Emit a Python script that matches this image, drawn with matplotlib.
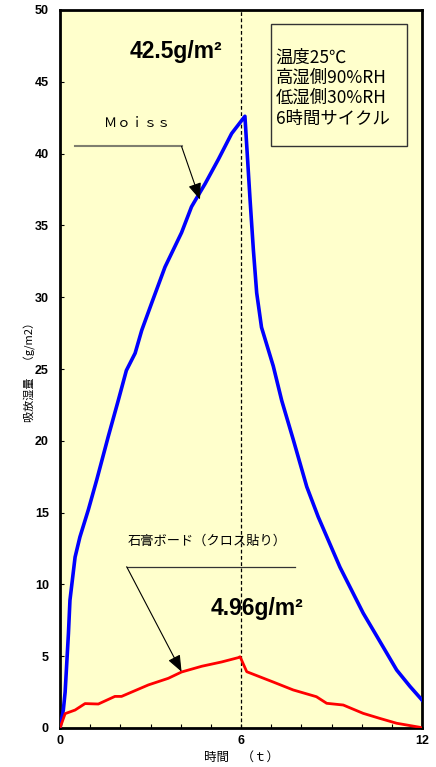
import matplotlib
matplotlib.use("Agg")
import matplotlib.pyplot as plt
from matplotlib.patches import Rectangle
from matplotlib.ticker import MultipleLocator

# ---- data ----
moiss_t = [0, 0.11, 0.17, 0.28, 0.33, 0.5, 0.66, 0.94, 1.22, 1.6, 1.93, 2.2, 2.49, 2.71,
           3.04, 3.48, 4.03, 4.36, 4.5, 4.81, 5.25, 5.69, 6.13, 6.3, 6.41, 6.52, 6.68,
           7.07, 7.35, 7.73, 8.18, 8.56, 9.28, 10.05, 10.5, 11.16, 11.6, 12.0]
moiss_v = [0, 1.25, 2.5, 6.6, 8.9, 11.9, 13.3, 15.2, 17.3, 20.3, 22.8, 24.9, 26.1, 27.7,
           29.6, 32.1, 34.5, 36.3, 36.8, 37.9, 39.6, 41.4, 42.6, 36.8, 33.3, 30.3, 27.9,
           25.2, 22.8, 20.1, 16.8, 14.7, 11.2, 8.0, 6.4, 4.04, 2.9, 1.95]
gyp_t = [0, 0.17, 0.5, 0.83, 1.27, 1.82, 2.04, 2.93, 3.59, 4.03, 4.7, 5.36, 5.91, 5.97,
         6.19, 7.07, 7.73, 8.5, 8.84, 9.39, 10.05, 10.6, 11.16, 11.93, 12.0]
gyp_v = [0, 1.0, 1.25, 1.7, 1.67, 2.2, 2.2, 3.0, 3.46, 3.9, 4.3, 4.6, 4.9, 4.96,
         3.92, 3.2, 2.65, 2.18, 1.72, 1.6, 1.02, 0.67, 0.33, 0.05, 0.0]
x_major = [0, 6, 12]
y_major = [0, 5, 10, 15, 20, 25, 30, 35, 40, 45, 50]
info_lines = ["温度25℃", "高湿側90%RH", "低湿側30%RH", "6時間サイクル"]

JP = ["Noto Sans CJK JP", "DejaVu Sans"]
NUM = ["Liberation Sans Narrow", "Liberation Sans", "DejaVu Sans"]

fig = plt.figure(figsize=(4.36, 7.67), dpi=100)
ax = fig.add_axes([60/436, 1 - 728/767, (422-60)/436, (728-10)/767])
ax.set_facecolor("#FFFFCC")

ax.plot(moiss_t, moiss_v, color="#0000FF", lw=2.6, solid_joinstyle="round", zorder=3)
ax.plot(gyp_t, gyp_v, color="#FF0000", lw=2.0, solid_joinstyle="round", zorder=3)
ax.axvline(6, color="black", lw=0.9, ls=(0, (3, 2)), zorder=2)

ax.set_xlim(0, 12)
ax.set_ylim(0, 50)
ax.set_xticks(x_major)
ax.xaxis.set_minor_locator(MultipleLocator(1))
ax.set_yticks(y_major)
ax.tick_params(axis="both", which="major", direction="in", length=3, width=0.8, pad=8)
ax.tick_params(axis="x", which="minor", direction="in", length=3, width=0.8)
ax.tick_params(axis="x", which="major", pad=5)
for lab in ax.get_xticklabels() + ax.get_yticklabels():
    lab.set_fontfamily(NUM)
    lab.set_fontweight("bold")
    lab.set_fontsize(9)
for s in ax.spines.values():
    s.set_linewidth(2)
    s.set_color("black")

ax.set_xlabel("時間　（ｔ）", family=JP, fontsize=9, labelpad=3)
ax.set_ylabel("吸放湿量　（g/m2）", family=JP, fontsize=8, labelpad=-1)

# info box
ax.add_patch(Rectangle((7.01, 40.5), 4.5, 8.5, facecolor="#FFFFCC", edgecolor="#333333",
                       lw=1.0, zorder=4))
for i, line in enumerate(info_lines):
    ax.text(7.15, 46.7 - i * 1.42, line, family=JP, fontsize=12.5, va="center",
            ha="left", zorder=5)

# value labels
ax.text(3.85, 47.1, "42.5g/m²", family=NUM, fontweight="bold", fontsize=16.5,
        ha="center", va="center", zorder=5)
ax.text(6.53, 8.3, "4.96g/m²", family=NUM, fontweight="bold", fontsize=16.5,
        ha="center", va="center", zorder=5)

# Moiss leader
ax.text(2.55, 42.1, "Ｍｏｉｓｓ", family=JP, fontsize=9.5, ha="center", va="center")
ax.plot([0.5, 4.03], [40.5, 40.5], color="#7f7f6f", lw=1.5, zorder=4)
ax.annotate("", xy=(4.64, 36.8), xytext=(4.03, 40.5),
            arrowprops=dict(arrowstyle="-|>,head_length=1.0,head_width=0.4",
                            color="black", lw=0.8, shrinkA=0, shrinkB=0), zorder=4)

# Gypsum leader
ax.text(4.87, 13.0, "石膏ボード（クロス貼り）", family=JP, fontsize=9.5, ha="center",
        va="center")
ax.plot([2.21, 7.79], [11.23, 11.23], color="#333333", lw=0.9, zorder=4)
ax.annotate("", xy=(4.03, 3.92), xytext=(2.21, 11.23),
            arrowprops=dict(arrowstyle="-|>,head_length=1.0,head_width=0.4",
                            color="black", lw=0.8, shrinkA=0, shrinkB=0), zorder=4)

fig.savefig("out.png", dpi=100)
